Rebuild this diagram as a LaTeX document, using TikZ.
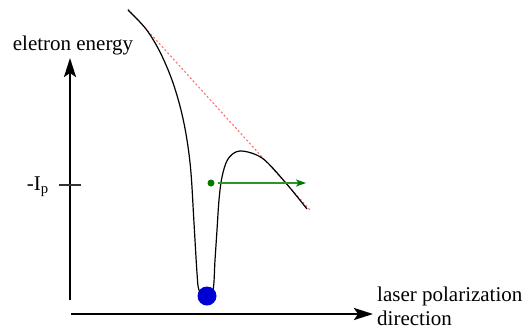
\documentclass[tikz,border=0pt]{standalone}
\usepackage{fontspec}
\setmainfont{Liberation Serif}
\usepackage{tikz}
\usetikzlibrary{arrows.meta, positioning}
\definecolor{fieldred}{RGB}{255,110,110}
\definecolor{darkgreen}{RGB}{0,120,0}
\definecolor{driftgreen}{RGB}{40,150,40}
\definecolor{ballblue}{RGB}{0,0,210}
\tikzset{
    axis/.style={line width=2.5pt, -{Stealth[length=19pt, width=12pt, inset=4pt]}},
    potential/.style={line width=1.2pt, black},
    field/.style={line width=1.1pt, fieldred, dash pattern=on 2pt off 2.2pt},
    tick/.style={line width=1.3pt, black!80},
    ball/.style={circle, fill=ballblue, inner sep=0pt, minimum size=19pt},
    dot/.style={circle, fill=darkgreen, inner sep=0pt, minimum size=7pt},
    drift/.style={line width=1.2pt, color=driftgreen, -{Stealth[length=10pt, width=7pt, inset=2.5pt, color=darkgreen]}, shorten <=3pt},
    txt/.style={inner sep=0pt, font=\rmfamily\fontsize{21}{24}\selectfont}
}
\begin{document}
\begin{tikzpicture}[x=1pt, y=-1pt]
    \useasboundingbox (0,0) rectangle (528,333);

    % axes
    \coordinate (vbot) at (70,300);
    \coordinate (vtop) at (70,58);
    \coordinate (hleft) at (71,314);
    \coordinate (hright) at (373,314);
    \node (energy) [txt, anchor=base] at (73,50) {eletron energy};
    \node (laser) [txt, anchor=base west, align=left] at (377,325) {laser polarization\\direction};
    \draw [axis] (vbot) -- (vtop);
    \draw [axis] (hleft) -- (hright);

    % ionization level
    \coordinate (tickL) at (59,185);
    \coordinate (tickR) at (81,185);
    \node (ip) [txt, anchor=base east] at (49,190) {-I\textsubscript{p}};
    \draw [tick] (tickL) -- (tickR);

    % tilted field line
    \coordinate (ftop) at (128,9);
    \coordinate (fbot) at (311,211);
    \draw [field] (ftop) -- (fbot);

    % potential well
    \draw [potential] plot[smooth, tension=0.55] coordinates {
        (128,10) (146,29) (160,52) (172,80) (181,110) (187,140)
        (191,173) (194,223) (197,273) (199,290) (206,298) (213,290)
        (215,260) (217,230) (219,200) (222,177) (228,159)
        (240,151) (262,158) (285,182) (307,209)};

    % electrons
    \node (bound) [ball] at (207,296) {};
    \node (free) [dot] at (211,183) {};
    \coordinate (freeend) at (306,183);
    \draw [drift] (free) -- (freeend);
\end{tikzpicture}
\end{document}
